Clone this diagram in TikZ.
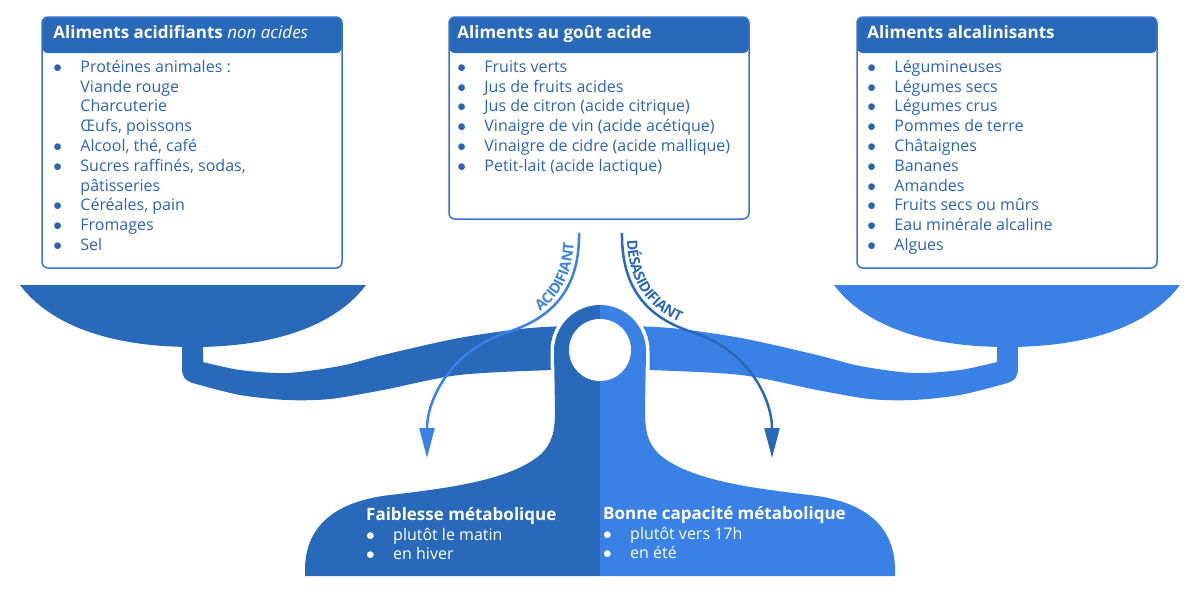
\documentclass[tikz,border=0pt]{standalone}
\usepackage{fontspec}
\setmainfont{Open Sans}
\usepackage{tikz}
\usetikzlibrary{arrows.meta}
\usetikzlibrary{decorations.text}
\usetikzlibrary{positioning}

\definecolor{darkblue}{RGB}{41,105,186}
\definecolor{lightblue}{RGB}{57,129,228}
\definecolor{textblue}{RGB}{43,99,178}
\definecolor{lineblue}{RGB}{52,116,206}

\newcommand{\bul}{$\bullet$}

% one plate of the balance with its half of the beam
\newcommand{\platehalf}[1]{%
  \fill[#1] (20,285) -- (366,285) .. controls (336,325) and (276,347) .. (193,347)
    .. controls (110,347) and (50,325) .. (20,285) -- cycle;
  \fill[#1] (182,345) -- (203,345) -- (203,362)
    -- plot[smooth] coordinates {(203,362) (240,370) (287,373) (340,366) (383,355) (459,338) (530,328) (600,325)}
    -- (600,370)
    -- plot[smooth] coordinates {(600,370) (553,370) (459,375) (383,390) (330,399) (287,400) (240,395) (196,384)}
    .. controls (184,381) and (182,376) .. (182,368) -- cycle;
}
% one half of the pillar and foot
\newcommand{\pillarhalf}[1]{%
  \fill[#1] (600,305) -- (600,576) -- (305,576) -- (305,570)
    .. controls (305,530) and (330,502) .. (390,495)
    .. controls (450,488) and (510,480) .. (540,455)
    .. controls (553,443) and (555,430) .. (555,410)
    -- (554,351) arc[start angle=180, end angle=270, radius=46] -- cycle;
}

\begin{document}
\begin{tikzpicture}[x=1pt,y=-1pt]
\tikzset{>={Triangle[width=15pt,length=30pt]}}
\tikzstyle{foodbox}=[draw=lineblue, line width=1.5pt, rounded corners=6pt, minimum width=300pt, inner sep=0pt,
  path picture={\fill[darkblue] (path picture bounding box.north west) rectangle ([yshift=-36pt]path picture bounding box.north east);}]
\tikzstyle{headtext}=[anchor=base west, inner sep=0pt, text=white, font=\fontsize{17}{19}\selectfont\bfseries]
\tikzstyle{itemlist}=[inner sep=0pt, text=textblue, font=\fontsize{16}{19.8}\selectfont]
\tikzstyle{basetext}=[anchor=north west, inner sep=0pt, text=white, font=\fontsize{16}{19.5}\selectfont]

\useasboundingbox (0,0) rectangle (1200,600);

% balance
\platehalf{darkblue}
\begin{scope}[xshift=1200pt, xscale=-1]
\platehalf{lightblue}
\end{scope}
\draw[white, line width=7pt] (555,420) -- (554,351) arc[start angle=180, end angle=360, radius=46] -- (646,420);
\pillarhalf{darkblue}
\begin{scope}[xshift=1200pt, xscale=-1]
\pillarhalf{lightblue}
\end{scope}
\fill[white] (600,350) circle[radius=31];

% boxes
\node[foodbox, minimum height=251pt] (acid) at (192,142.5) {};
\node[foodbox, minimum height=202pt] (taste) at (599,118) {};
\node[foodbox, minimum height=251pt] (alka) at (1007,142.5) {};

\node[headtext] at ([xshift=12pt,yshift=-22pt]acid.north west) {Aliments acidifiants \textit{\mdseries non acides}};
\node[headtext] at ([xshift=9pt,yshift=-22pt]taste.north west) {Aliments au goût acide};
\node[headtext] at ([xshift=11pt,yshift=-22pt]alka.north west) {Aliments alcalinisants};

\node[itemlist, below right=42pt and 12pt of acid.north west] (acidList) {%
\begin{tabular}{@{}p{27pt}@{}l@{}}
\bul & Protéines animales :\\
 & Viande rouge\\
 & Charcuterie\\
 & Œufs, poissons\\
\bul & Alcool, thé, café\\
\bul & Sucres raffinés, sodas,\\
 & pâtisseries\\
\bul & Céréales, pain\\
\bul & Fromages\\
\bul & Sel
\end{tabular}};
\node[itemlist, below right=42pt and 9pt of taste.north west] (tasteList) {%
\begin{tabular}{@{}p{27pt}@{}l@{}}
\bul & Fruits verts\\
\bul & Jus de fruits acides\\
\bul & Jus de citron (acide citrique)\\
\bul & Vinaigre de vin (acide acétique)\\
\bul & Vinaigre de cidre (acide mallique)\\
\bul & Petit-lait (acide lactique)
\end{tabular}};
\node[itemlist, below right=42pt and 11pt of alka.north west] (alkaList) {%
\begin{tabular}{@{}p{27pt}@{}l@{}}
\bul & Légumineuses\\
\bul & Légumes secs\\
\bul & Légumes crus\\
\bul & Pommes de terre\\
\bul & Châtaignes\\
\bul & Bananes\\
\bul & Amandes\\
\bul & Fruits secs ou mûrs\\
\bul & Eau minérale alcaline\\
\bul & Algues
\end{tabular}};

% arrows
\coordinate (acidStart) at ([xshift=-20pt,yshift=-13pt]taste.south);
\coordinate (desStart) at ([xshift=23pt,yshift=-13pt]taste.south);
\coordinate (acidEnd) at (427,458);
\coordinate (desEnd) at (772,458);
\draw[->, line width=2.5pt, lightblue] (acidStart) .. controls (580,300) and (540,322) .. (505,333)
  .. controls (450,352) and (427,400) .. (acidEnd);
\draw[->, line width=2.5pt, darkblue] (desStart) .. controls (621,300) and (660,322) .. (695,333)
  .. controls (750,352) and (772,400) .. (desEnd);
\path[decorate, decoration={text along path, raise=5pt, text align={right, right indent=11pt},
  text={|\fontsize{14.5}{15}\selectfont\bfseries\color{lightblue}|ACIDIFIANT}}]
  (acidEnd) .. controls (427,400) and (450,352) .. (505,333) .. controls (540,322) and (580,300) .. (acidStart);
\path[decorate, decoration={text along path, raise=5pt, text align={left, left indent=8pt},
  text={|\fontsize{14.5}{15}\selectfont\bfseries\color{darkblue}|D{É}SASIDIFIANT}}]
  (desStart) .. controls (621,300) and (660,322) .. (695,333) .. controls (750,352) and (772,400) .. (desEnd);

% foot texts
\node[basetext] (weak) at (366,507) {%
\begin{tabular}{@{}p{27pt}@{}l@{}}
\multicolumn{2}{@{}l@{}}{\fontsize{17}{19.5}\selectfont\bfseries Faiblesse métabolique}\\
\bul & plutôt le matin\\
\bul & en hiver
\end{tabular}};
\node[basetext] (good) at (603,506) {%
\begin{tabular}{@{}p{27pt}@{}l@{}}
\multicolumn{2}{@{}l@{}}{\fontsize{17}{19.5}\selectfont\bfseries Bonne capacité métabolique}\\
\bul & plutôt vers 17h\\
\bul & en été
\end{tabular}};
\end{tikzpicture}
\end{document}
